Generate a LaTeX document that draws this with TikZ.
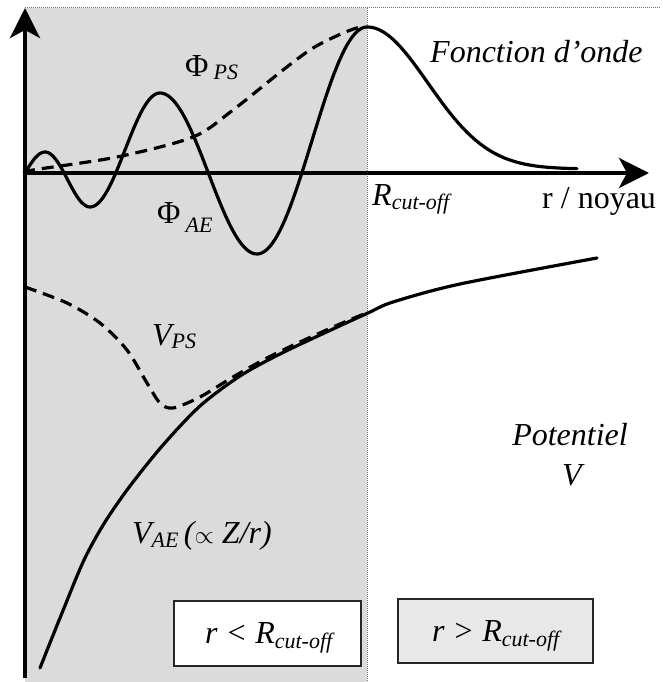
\documentclass[tikz,border=0pt]{standalone}
\usepackage{fontspec}
\setmainfont{Liberation Serif}
\usetikzlibrary{arrows.meta}
\newcommand\subtxt[1]{{\fontsize{22}{22}\selectfont\itshape #1}}
\begin{document}
\begin{tikzpicture}[x=1pt,y=-1pt,
  lbl/.style={inner sep=0pt, anchor=base west, font=\fontsize{32}{36}\selectfont},
  lblc/.style={inner sep=0pt, anchor=base, font=\fontsize{32}{36}\selectfont},
  curve/.style={line width=3.2pt, line join=round, line cap=round},
  dsh/.style={line width=3.2pt, line join=round, dash pattern=on 12pt off 7pt},
  axisline/.style={line width=4pt, -{Stealth[length=30pt,width=30pt,inset=8pt]}},
  dotline/.style={draw=black!55, line width=1pt, dash pattern=on 1pt off 1pt},
  boxa/.style={draw=black!85, line width=1.5pt, fill=white},
  boxb/.style={draw=black!85, line width=1.5pt, fill=black!9},
]
\useasboundingbox (0,0) rectangle (663,682);
% shaded region r < Rc
\fill[black!14] (25,8) rectangle (367,682);
\draw[dotline] (25,8) -- (660,8);
\draw[dotline] (367,8) -- (367,682);
% boxes
\node[boxa, minimum width=187pt, minimum height=65pt, anchor=north west, inner sep=0pt] (b1) at (173,600) {};
\node[boxb, minimum width=195pt, minimum height=64pt, anchor=north west, inner sep=0pt] (b2) at (397,598) {};
\node[lbl] (t1) at (205,643) {\itshape r < R\raisebox{-5pt}{\subtxt{cut-off}}};
\node[lbl] (t2) at (432,641) {\itshape r > R\raisebox{-5pt}{\subtxt{cut-off}}};
% wave functions
\draw[curve] plot[domain=25:45, samples=12] (\x,{173-21*sin((\x-25)*4.5)})
  -- plot[domain=45:90, samples=25] (\x,{179.5-27.5*cos((\x-45)*4)})
  -- plot[domain=90:160, samples=35] (\x,{150+57*cos((\x-90)*2.5714)})
  -- plot[domain=160:257, samples=45] (\x,{173.5-80.5*cos((\x-160)*1.8557)})
  -- plot[domain=257:367, samples=50] (\x,{140.5+113.5*cos((\x-257)*1.63636)})
  -- plot[domain=367:577, samples=70] (\x,{169-142*exp(-((\x-367)/86)^2)});
\draw[dsh] plot[smooth] coordinates {(25,173) (33,170) (117,157) (193,137) (233,110) (283,70) (313,48) (343,33) (360,27)};
% potentials
\draw[curve] plot[smooth] coordinates {(40,668) (62,613) (84,560) (105,522) (130,486) (163,445) (200,406) (240,376) (280,354) (333,329) (368,313) (393,302) (460,284) (597,258)};
\draw[dsh] plot[smooth] coordinates {(25,287) (67,303) (100,323) (127,350) (147,383) (160,403) (173,408) (200,397) (233,377) (267,358) (300,342) (340,324) (364,314)};
% axes
\coordinate (vb) at (25,678);
\coordinate (vt) at (25,8);
\coordinate (ho) at (25,173);
\coordinate (he) at (649,173);
\draw[axisline] (vb) -- (vt);
\draw[axisline] (ho) -- (he);
% labels
\node[lbl] (phips) at (185,77) {Φ\hspace{5pt}\raisebox{-3pt}{\subtxt{PS}}};
\node[lbl] (phiae) at (157,223) {Φ\hspace{5pt}\raisebox{-9pt}{\subtxt{AE}}};
\node[lbl] (rc) at (372,205) {\itshape R\raisebox{-4pt}{\subtxt{cut-off}}};
\node[lbl] (fo) at (430,63) {\itshape Fonction d’onde};
\node[lbl] (rn) at (542,208) {r / noyau};
\node[lbl] (vps) at (152,345) {\itshape V\raisebox{-3pt}{\subtxt{PS}}};
\node[lbl] (vae) at (132,543) {\itshape V\raisebox{-4pt}{\subtxt{AE}}\,(\ensuremath{\propto} Z/r)};
\node[lblc] (pot) at (570,445) {\itshape Potentiel};
\node[lblc] (vv) at (572,485) {\itshape V};
\end{tikzpicture}
\end{document}
